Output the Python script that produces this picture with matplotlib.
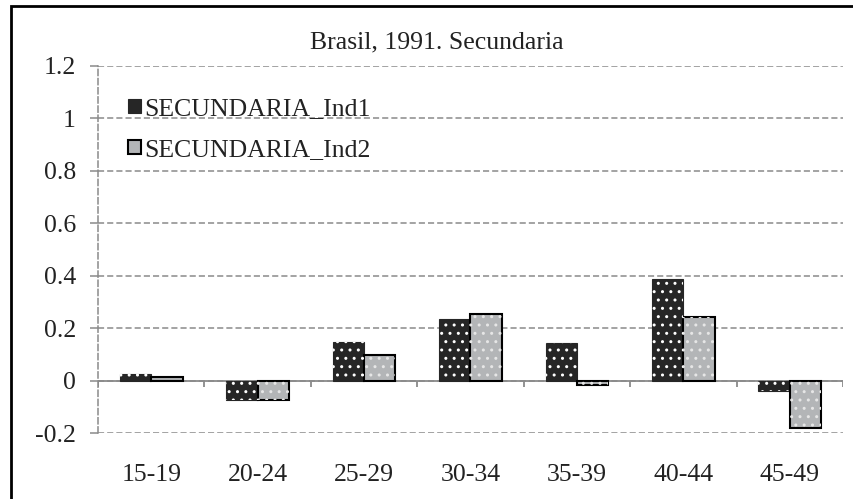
import numpy as np
import matplotlib.pyplot as plt
from matplotlib.patches import Rectangle

categories = ["15-19", "20-24", "25-29", "30-34", "35-39", "40-44", "45-49"]
ind1 = [0.026, -0.075, 0.146, 0.234, 0.143, 0.387, -0.038]
ind2 = [0.012, -0.074, 0.098, 0.255, -0.016, 0.243, -0.180]
labels = ["SECUNDARIA_Ind1", "SECUNDARIA_Ind2"]

plt.rcParams['font.family'] = ['Liberation Serif', 'DejaVu Serif']
plt.rcParams['hatch.linewidth'] = 1.0

fs = 18.5
fig = plt.figure(figsize=(8.54, 4.99), dpi=100)
ax = fig.add_axes([98 / 854, 1 - 433 / 499, 745 / 854, 367 / 499])

x = np.arange(len(categories))
w = 0.295
dark = '#262626'
light = '#b3b5b7'

b1 = ax.bar(x - w / 2, ind1, w, color=dark, edgecolor=dark, linewidth=0.8, zorder=3, label=labels[0])
b2 = ax.bar(x + w / 2, ind2, w, color=light, edgecolor='black', linewidth=1.5, zorder=3, label=labels[1])
# white dot pattern on top
ax.bar(x - w / 2, ind1, w, color='none', edgecolor='white', hatch='..', linewidth=0, zorder=4)
ax.bar(x + w / 2, ind2, w, color='none', edgecolor='#e6e6e6', hatch='..', linewidth=0, zorder=4)

ax.set_xlim(-0.5, len(categories) - 0.5)
ax.set_ylim(-0.2, 1.2)
ax.set_yticks(np.arange(-0.2, 1.21, 0.2))
ax.set_yticklabels(["-0.2", "0", "0.2", "0.4", "0.6", "0.8", "1", "1.2"])
ax.set_xticks(x)
ax.set_xticklabels(categories)

gc = '#8a8a8a'
ax.grid(axis='y', color=gc, linestyle=(0, (4, 2)), linewidth=1.1, zorder=0)
for s in ['top', 'right', 'bottom']:
    ax.spines[s].set_visible(False)
ax.spines['left'].set_color(gc)
ax.spines['left'].set_linestyle((0, (4, 2)))
ax.spines['left'].set_linewidth(1.1)

ax.axhline(0, color=gc, linewidth=1.3, zorder=2)
ax.vlines(np.arange(len(categories) + 1) - 0.5, -0.026, 0, color=gc, linewidth=1.3, zorder=2)

ax.tick_params(axis='x', length=0, pad=22, labelsize=fs, colors='#222222')
ax.tick_params(axis='y', length=6, color=gc, width=1.1, pad=10, labelsize=fs, labelcolor='#222222')

fig.text(437 / 854, 1 - 42 / 499, "Brasil, 1991. Secundaria", ha='center', va='center',
         fontsize=fs, color='#222222')

leg = ax.legend(loc='upper left', bbox_to_anchor=(0.027, 0.94), frameon=False, fontsize=fs,
                handlelength=0.48, handleheight=0.45, handletextpad=0.15, labelspacing=0.72,
                borderaxespad=0)
for t in leg.get_texts():
    t.set_color('#222222')

# outer frame (cropped at right and bottom)
fig.add_artist(Rectangle((11 / 854, -0.1), 1.2, 1 - 6 / 499 + 0.1, transform=fig.transFigure,
                         fill=False, edgecolor='black', linewidth=2))

fig.savefig("out.png", dpi=100)
